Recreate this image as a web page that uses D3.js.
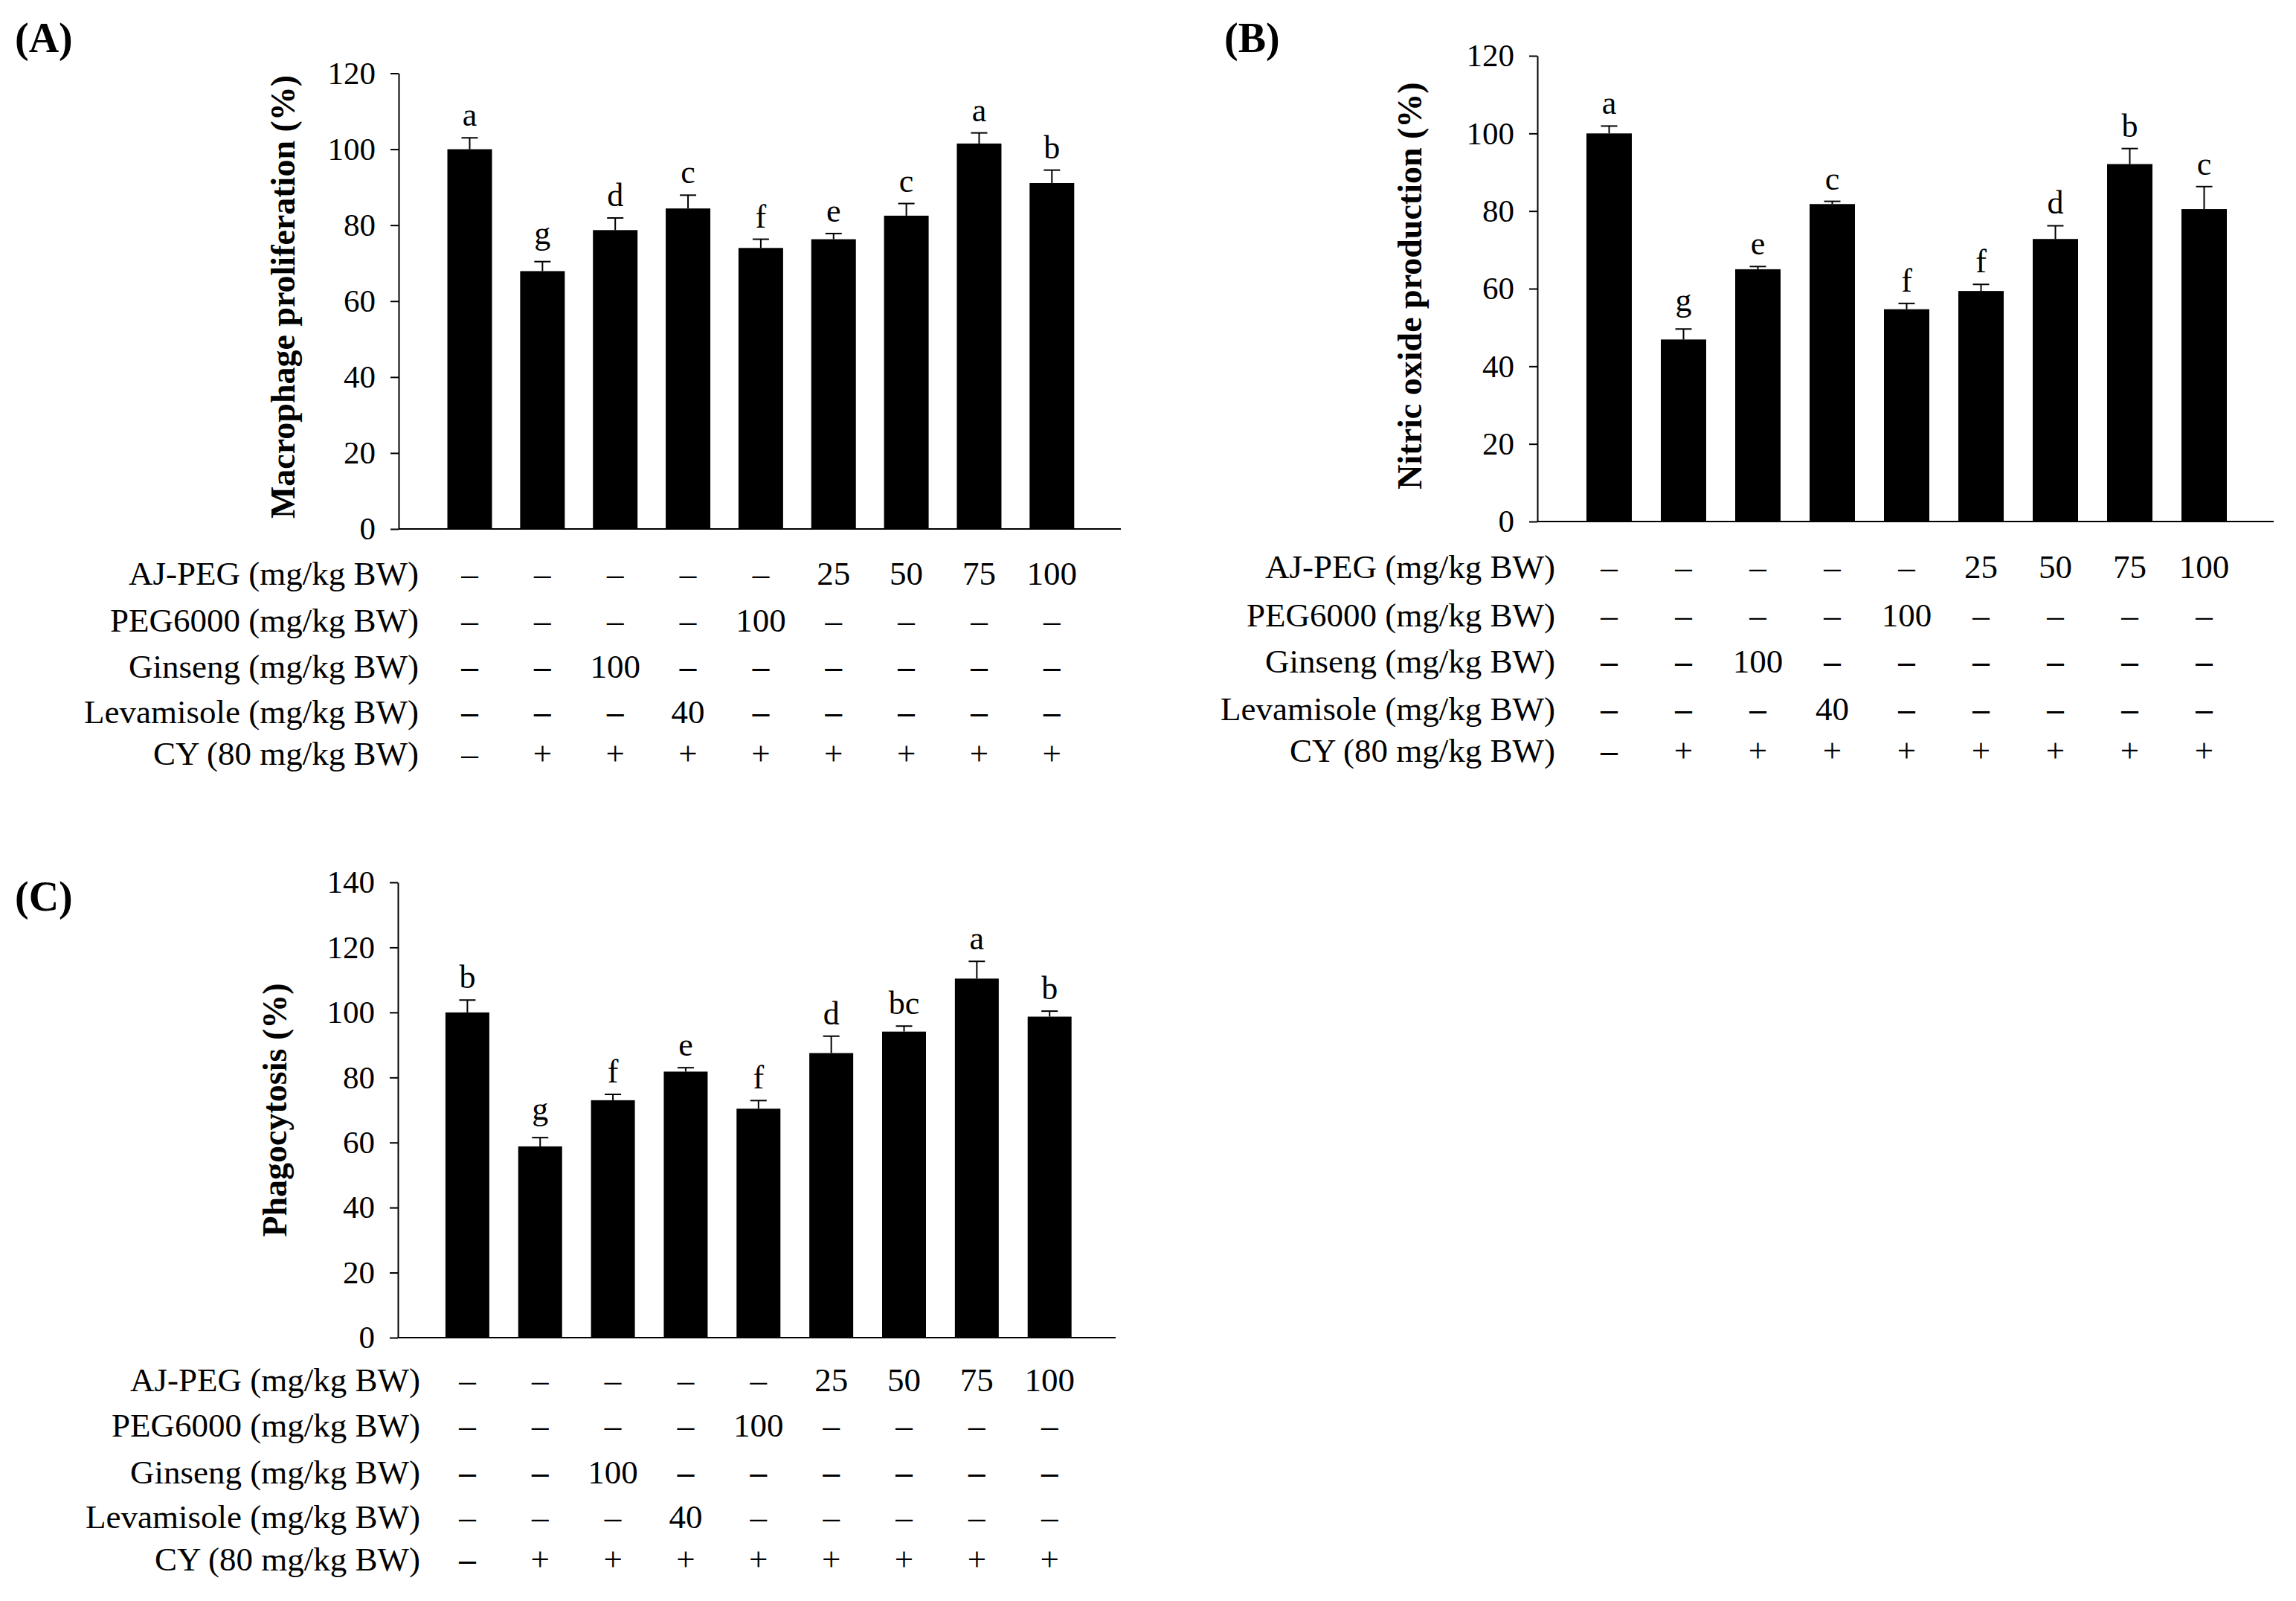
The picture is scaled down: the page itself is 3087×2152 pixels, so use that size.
<!DOCTYPE html>
<html>
<head>
<meta charset="utf-8">
<script src="https://cdn.jsdelivr.net/npm/d3@7"></script>
<style>
html, body { margin: 0; padding: 0; background: #ffffff; }
svg { display: block; }
text { font-family: "Liberation Serif", "Times New Roman", Times, serif; fill: #000; }
</style>
</head>
<body>
<svg id="chart" width="3087" height="2152"></svg>
<script>
// ---------------- DATA ----------------
const groups = ["G1", "G2", "G3", "G4", "G5", "G6", "G7", "G8", "G9"];

const rowLabels = [
  "AJ-PEG (mg/kg BW)",
  "PEG6000 (mg/kg BW)",
  "Ginseng (mg/kg BW)",
  "Levamisole (mg/kg BW)",
  "CY (80 mg/kg BW)"
];
const rowAJPEG      = ["–", "–", "–", "–", "–", "25", "50", "75", "100"];
const rowPEG6000    = ["–", "–", "–", "–", "100", "–", "–", "–", "–"];
const rowGinseng    = ["–", "–", "100", "–", "–", "–", "–", "–", "–"];
const rowLevamisole = ["–", "–", "–", "40", "–", "–", "–", "–", "–"];
const rowCY         = ["–", "+", "+", "+", "+", "+", "+", "+", "+"];
const treatmentRows = [rowAJPEG, rowPEG6000, rowGinseng, rowLevamisole, rowCY];

// (A) Macrophage proliferation (%)
const prolifMean    = [100.0, 67.9, 78.7, 84.4, 74.0, 76.3, 82.5, 101.5, 91.1];
const prolifErr     = [3.0, 2.5, 3.2, 3.5, 2.3, 1.5, 3.2, 2.8, 3.4];
const prolifLetters = ["a", "g", "d", "c", "f", "e", "c", "a", "b"];
const prolifTicks   = [0, 20, 40, 60, 80, 100, 120];

// (B) Nitric oxide production (%)
const noMean    = [100.0, 46.9, 65.0, 81.8, 54.7, 59.4, 72.8, 92.1, 80.5];
const noErr     = [1.9, 2.7, 0.7, 0.7, 1.5, 1.7, 3.4, 4.0, 5.8];
const noLetters = ["a", "g", "e", "c", "f", "f", "d", "b", "c"];
const noTicks   = [0, 20, 40, 60, 80, 100, 120];

// (C) Phagocytosis (%)
const phagoMean    = [100.0, 58.8, 73.0, 81.8, 70.4, 87.5, 94.1, 110.4, 98.7];
const phagoErr     = [3.8, 2.7, 1.8, 1.2, 2.5, 5.2, 1.7, 5.3, 1.7];
const phagoLetters = ["b", "g", "f", "e", "f", "d", "bc", "a", "b"];
const phagoTicks   = [0, 20, 40, 60, 80, 100, 120, 140];

// ---------------- LAYOUT ----------------
const panels = [
  { title: "(A)", titleX: 20, titleY: 70, yLabel: "Macrophage proliferation (%)",
    mean: prolifMean, err: prolifErr, letters: prolifLetters, ticks: prolifTicks,
    axisX: 536, y0: 711, yTop: 98.5, xEnd: 1507, firstCenter: 631.5, step: 97.85, barW: 60,
    rowRight: 563, rowBase: [786, 849, 911, 972, 1028], boldDashRows: [2, 3],
    yLabelX: 396, yLabelY: 399 },
  { title: "(B)", titleX: 1646, titleY: 70, yLabel: "Nitric oxide production (%)",
    mean: noMean, err: noErr, letters: noLetters, ticks: noTicks,
    axisX: 2067, y0: 701, yTop: 75, xEnd: 3057, firstCenter: 2163.5, step: 100, barW: 61,
    rowRight: 2091, rowBase: [777, 842, 904, 968, 1024], boldDashRows: [2, 3, 4],
    yLabelX: 1911, yLabelY: 384 },
  { title: "(C)", titleX: 20, titleY: 1224, yLabel: "Phagocytosis (%)",
    mean: phagoMean, err: phagoErr, letters: phagoLetters, ticks: phagoTicks,
    axisX: 535, y0: 1798, yTop: 1186, xEnd: 1500, firstCenter: 628.4, step: 97.85, barW: 59,
    rowRight: 565, rowBase: [1870, 1931, 1994, 2054, 2111], boldDashRows: [2, 4],
    yLabelX: 385, yLabelY: 1492 }
];

const svg = d3.select("#chart");

panels.forEach(p => {
  const g = svg.append("g");
  const yMax = d3.max(p.ticks);
  const y = d3.scaleLinear().domain([0, yMax]).range([p.y0, p.yTop]);
  const pad = 1 - p.barW / p.step;
  const x = d3.scaleBand()
    .domain(groups)
    .range([p.firstCenter - p.step / 2, p.firstCenter + (groups.length - 0.5) * p.step])
    .paddingInner(pad)
    .paddingOuter(pad / 2);

  // title
  g.append("text")
    .attr("x", p.titleX).attr("y", p.titleY)
    .attr("font-size", 56).attr("font-weight", "bold")
    .text(p.title);

  // y axis
  const yAxis = d3.axisLeft(y).tickValues(p.ticks).tickSize(11).tickSizeOuter(0).tickPadding(20);
  const ya = g.append("g").attr("transform", `translate(${p.axisX},0)`).call(yAxis);
  ya.selectAll("path.domain").attr("stroke", "#000").attr("stroke-width", 2);
  ya.selectAll(".tick line").attr("stroke", "#000").attr("stroke-width", 2);
  ya.selectAll(".tick text")
    .attr("font-size", 43)
    .attr("font-family", "'Liberation Serif', 'Times New Roman', serif")
    .attr("fill", "#000");

  // x axis line
  g.append("line")
    .attr("x1", p.axisX).attr("x2", p.xEnd)
    .attr("y1", y(0)).attr("y2", y(0))
    .attr("stroke", "#000").attr("stroke-width", 2);

  // y label
  g.append("text")
    .attr("transform", `translate(${p.yLabelX},${p.yLabelY}) rotate(-90)`)
    .attr("text-anchor", "middle")
    .attr("font-size", 46).attr("font-weight", "bold")
    .text(p.yLabel);

  const data = groups.map((k, i) => ({ k, mean: p.mean[i], err: p.err[i], letter: p.letters[i] }));

  // bars
  g.selectAll("rect.bar").data(data).enter().append("rect")
    .attr("class", "bar")
    .attr("x", d => x(d.k))
    .attr("width", x.bandwidth())
    .attr("y", d => y(d.mean))
    .attr("height", d => y(0) - y(d.mean))
    .attr("fill", "#000");

  // error bars
  const cx = d => x(d.k) + x.bandwidth() / 2;
  g.selectAll("line.err").data(data).enter().append("line")
    .attr("x1", cx).attr("x2", cx)
    .attr("y1", d => y(d.mean)).attr("y2", d => y(d.mean + d.err))
    .attr("stroke", "#000").attr("stroke-width", 2);
  g.selectAll("line.cap").data(data).enter().append("line")
    .attr("x1", d => cx(d) - 11).attr("x2", d => cx(d) + 11)
    .attr("y1", d => y(d.mean + d.err)).attr("y2", d => y(d.mean + d.err))
    .attr("stroke", "#000").attr("stroke-width", 2);

  // significance letters
  g.selectAll("text.letter").data(data).enter().append("text")
    .attr("x", cx)
    .attr("y", d => y(d.mean + d.err) - (/[gjpqy]/.test(d.letter) ? 24 : 16))
    .attr("text-anchor", "middle")
    .attr("font-size", 44)
    .text(d => d.letter);

  // treatment table
  rowLabels.forEach((lab, r) => {
    g.append("text")
      .attr("x", p.rowRight).attr("y", p.rowBase[r])
      .attr("text-anchor", "end")
      .attr("font-size", 45)
      .text(lab);
    g.selectAll(null).data(treatmentRows[r].map((v, i) => ({ v, k: groups[i] }))).enter().append("text")
      .attr("x", d => x(d.k) + x.bandwidth() / 2)
      .attr("y", p.rowBase[r])
      .attr("text-anchor", "middle")
      .attr("font-size", 45)
      .attr("font-weight", d => (d.v === "–" && p.boldDashRows.includes(r)) ? "bold" : "normal")
      .text(d => d.v);
  });
});
</script>
</body>
</html>
